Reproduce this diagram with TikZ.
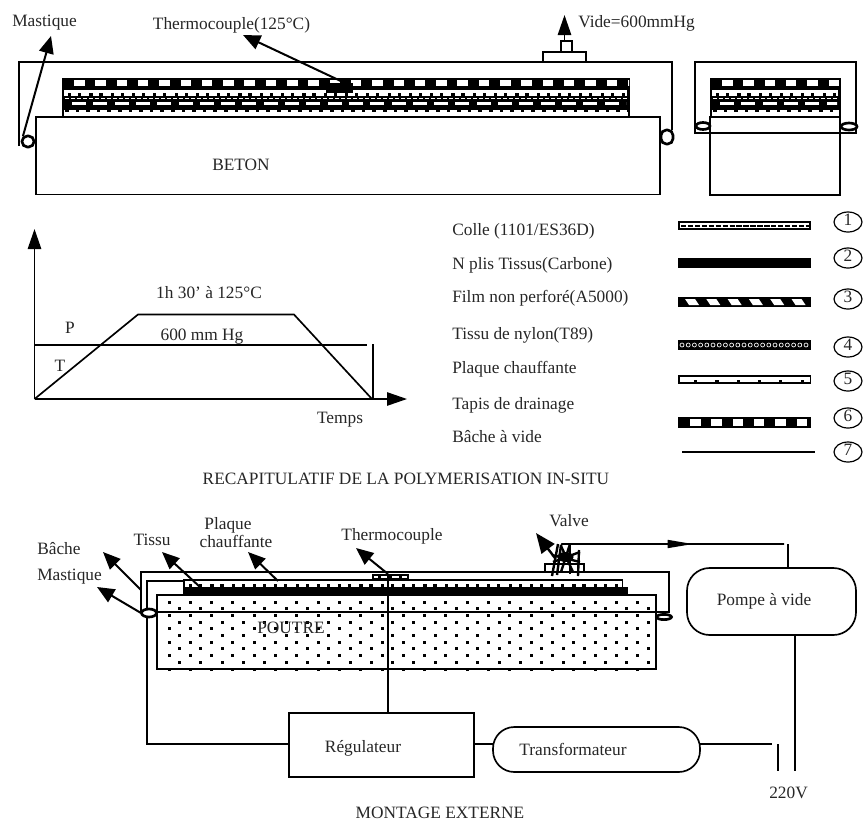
\documentclass[tikz,border=0pt]{standalone}
\usepackage{fontspec}
\setmainfont{Liberation Serif}
\usetikzlibrary{arrows.meta}

% Layer patterns: x1, x2, y1, y2 (black strip with white windows)
\newcommand{\layerTapis}[4]{
    \fill[black] (#1,#3) rectangle (#2,#4);
    \begin{scope}
    \clip (#1,#3) rectangle (#2-1,#4);
    \foreach \i in {0,...,30} {
        \fill[white] (#1+12+21.3*\i,#3+2) rectangle ++(10.5,#4-#3-4);
    }
    \end{scope}
}
\newcommand{\layerPlaque}[4]{
    \fill[black] (#1,#3) rectangle (#2,#4);
    \fill[white] (#1+1.5,#3+1.5) rectangle (#2-1.5,#4-1.5);
    \begin{scope}
    \clip (#1,#3) rectangle (#2-2,#4);
    \foreach \i in {0,...,30} {
        \fill[black] (#1+16+21.3*\i,#4-4) rectangle ++(3.2,3);
    }
    \end{scope}
}
\newcommand{\layerPlaqueBis}[4]{
    \layerPlaque{#1}{#2}{#3}{#4}
    \begin{scope}
    \clip (#1,#3) rectangle (#2-2,#4);
    \foreach \i in {0,...,30} {
        \fill[black] (#1+6+21.3*\i,#4-4) rectangle ++(3.2,3);
    }
    \end{scope}
}
\newcommand{\layerFilm}[4]{
    \fill[black] (#1,#3) rectangle (#2,#4);
    \begin{scope}
    \clip (#1,#3) rectangle (#2-1.5,#4-2);
    \foreach \i in {0,...,30} {
        \fill[white] (#1+7+21.3*\i,#3+2) -- ++(10,0) -- ++(4,#4-#3-4) -- ++(-10,0) -- cycle;
    }
    \end{scope}
}

% The stack of layers under the tarpaulin: x1, x2, number of bars
\newcommand{\stackLayers}[3]{
    \fill[black] (#1,78) rectangle (#2,117);
    \layerTapis{#1}{#2}{78}{88}
    \layerPlaqueBis{#1}{#2-2}{88}{97}
    \draw[white,line width=0.8pt,dash pattern=on 3pt off 1.5pt] (#1+3,98.5) -- (#2-3,98.5);
    \begin{scope}
    \clip (#1,100) rectangle (#2-4,110);
    \foreach \i in {0,...,#3} {
        \fill[white] (#1+10+21.3*\i,102) rectangle ++(14,2.5);
    }
    \end{scope}
    \fill[white] (#1+2,110) rectangle (#2-2,116);
    \begin{scope}
    \clip (#1+2,110) rectangle (#2-2,116);
    \foreach \i in {0,...,60} {
        \fill[black] (#1+3+10.6*\i,110) rectangle ++(3.5,2);
    }
    \end{scope}
}

\tikzset{
    every node/.style={font=\fontsize{13}{15}\selectfont, inner sep=0pt, text=black!85, text height=13pt, text depth=3pt},
    trait/.style={line width=1.25pt},
    fleche/.style={line width=1.5pt, -{Triangle[length=13pt,width=11pt]}},
    axe/.style={trait, -{Triangle[length=15pt,width=10pt]}},
    boite/.style={draw, line width=1.25pt, fill=white},
    joint/.style={line width=2pt, fill=white}
}

\begin{document}
\begin{tikzpicture}[x=0.75pt,y=-0.75pt]
\useasboundingbox (0,0) rectangle (863,822);

% Left section: bag, layers and concrete
\stackLayers{62}{630}{26}
\fill[black] (326,83) rectangle (353,93);
\draw[trait] (19,146) -- (19,62) -- (672,62) -- (672,130);
\draw[trait,fill=white] (36,117) rectangle (660,194.5);
\node (beton) at (241,164) {BETON};
\draw[joint,rounded corners=4pt] (22,136) rectangle (34,147);
\draw[joint,rounded corners=4pt] (661,130) rectangle (673,144);

% Valve on the top of the bag
\draw[trait,fill=white] (543,52) rectangle (586,62);
\draw[trait,fill=white] (561,41) rectangle (572,52);
\coordinate (valveHaut) at (564.5,41);
\coordinate (videTip) at (564.5,15);
\draw[axe] (valveHaut) -- (videTip);
\node[anchor=west] (vide) at (578,21) {Vide=600mmHg};

% Labels of the left section
\node[anchor=west] (mastiqueA) at (12,20) {Mastique};
\node (thermoA) at (231.5,23) {Thermocouple(125°C)};
\coordinate (mastiqueAFrom) at (23,136);
\coordinate (mastiqueATip) at (51,36);
\coordinate (thermoAFrom) at (345,83);
\coordinate (thermoATip) at (243,35);
\draw[fleche] (mastiqueAFrom) -- (mastiqueATip);
\draw[fleche] (thermoAFrom) -- (thermoATip);

% Right section
\stackLayers{710}{841}{5}
\draw[trait] (695,62) rectangle (856,133);
\draw[trait,fill=white] (710,117) rectangle (840,195);
\draw[trait] (695,133) -- (856,133);
\draw[joint] (703,126) ellipse (7 and 3.5);
\draw[joint] (849,126.5) ellipse (8 and 3.5);

% Cure cycle chart
\coordinate (O) at (34.5,399);
\coordinate (yTip) at (34.5,229);
\coordinate (xTip) at (407,399);
\draw[axe] (O) -- (yTip);
\draw[axe] (O) -- (xTip);
\draw[trait] (O) -- (138,314.5) -- (294,314.5) -- (372,399);
\draw[trait] (34.5,345) -- (367,345);
\draw[trait] (373,344) -- (373,399);
\node (palier) at (209,292) {1h 30' à 125°C};
\node (lblP) at (70,327) {P};
\node (pression) at (202,334) {600 mm Hg};
\node (lblT) at (60,365) {T};
\node (temps) at (340,417) {Temps};

% Legend: text, sample and number of each layer
\foreach \y/\txt in {229/{Colle (1101/ES36D)}, 263/N plis Tissus(Carbone), 296/Film non perforé(A5000), 333/Tissu de nylon(T89), 367/Plaque chauffante, 403/Tapis de drainage, 436/Bâche à vide} {
    \node[anchor=west] at (452,\y) {\txt};
}
% 1 glue
\fill[black] (678,221) rectangle (811,229.5);
\fill[white] (680,223) rectangle (809,227.5);
\draw[black,line width=1.2pt,dash pattern=on 4pt off 1.2pt] (681,226) -- (809,226);
% 2 carbon
\fill[black] (678,258) rectangle (811,268);
% 3 film
\layerFilm{678}{811}{297}{307}
% 4 nylon
\fill[black] (678,340) rectangle (811,350);
\foreach \i in {0,...,20} {
    \draw[white,line width=0.5pt] (682+6.2*\i,345) circle (2);
}
% 5 heater
\layerPlaque{678}{811}{375}{383.5}
% 6 drainage
\layerTapis{678}{811}{417}{428}
% 7 bag
\coordinate (bacheA) at (682,452);
\coordinate (bacheB) at (815,452);
\draw[trait] (bacheA) -- (bacheB);
\foreach \y/\n in {222/1, 258/2, 299/3, 347/4, 381/5, 418/6, 452/7} {
    \draw[line width=0.9pt] (848,\y) ellipse (14 and 10);
    \node at (848,\y-3) {\n};
}
\node (titreA) at (406,478) {RECAPITULATIF DE LA POLYMERISATION IN-SITU};

% External set-up: beam and layers
\fill[white] (157,595) rectangle (656,669);
\foreach \j in {0,...,10} {
    \pgfmathsetmacro{\dx}{mod(\j,2)*10.6}
    \foreach \i in {0,...,22} {
        \fill[black] (167.5+\dx+21.3*\i,600.5+6.7*\j) rectangle ++(3,3);
    }
}
\draw[trait] (157,595) rectangle (656,669);
\draw[trait] (157,612) -- (656,612);
\fill[black] (183,587) rectangle (628,595);
\layerPlaqueBis{183}{623}{579}{588}
\draw[line width=1pt,fill=white] (373,575) rectangle (408,578.5);
\foreach \i in {0,1,2} {
    \fill[black] (378+10.6*\i,575.5) rectangle ++(3,3);
}
\node (poutre) at (291,627) {POUTRE};

% Bag, heater wire and seals
\draw[trait] (141,613) -- (141,572) -- (669,572) -- (669,612) -- (656,612);
\draw[trait] (183,581) -- (147,581) -- (147,744) -- (289,744);
\draw[joint] (149,613) ellipse (7.5 and 4);
\draw[joint] (664,617) ellipse (7.5 and 2.6);

% Boxes of the set-up
\node[boite,minimum width=138.75pt,minimum height=48pt] (regulateur) at (381.5,745) {};
\node (txtRegulateur) at (363,746) {Régulateur};
\node[boite,rounded corners=16pt,minimum width=155.25pt,minimum height=33.75pt] (transfo) at (596.5,749.5) {};
\node (txtTransfo) at (573,749) {Transformateur};
\node[boite,rounded corners=17pt,minimum width=126.75pt,minimum height=50.25pt] (pompe) at (771.5,601.5) {};
\node (txtPompe) at (764,599) {Pompe à vide};

% Wires
\coordinate (thermoHaut) at (388,574);
\coordinate (regulateurHaut) at (388,713);
\coordinate (regulateurDroite) at (474,744);
\coordinate (transfoGauche) at (493,744);
\coordinate (transfoDroite) at (700,744);
\coordinate (borneA) at (772,744);
\coordinate (borneB) at (778,744);
\coordinate (borneBas) at (778,771);
\coordinate (pompeBas) at (795,635);
\coordinate (secteur) at (795,771);
\coordinate (pompeHaut) at (788,568);
\coordinate (pompeEntree) at (788,544);
\draw[trait] (thermoHaut) -- (regulateurHaut);
\draw[trait] (regulateurDroite) -- (transfoGauche);
\draw[trait] (transfoDroite) -- (borneA);
\draw[trait] (borneB) -- (borneBas);
\draw[trait] (pompeBas) -- (secteur);
\draw[trait] (pompeHaut) -- (pompeEntree);
\node (v220) at (788.5,792) {220V};

% Valve with its tangle of lines
\draw[trait,fill=white] (545,564) rectangle (584,572);
\draw[line width=1.8pt] (552,576) -- (558,544);
\draw[line width=1.8pt] (557,575) -- (561,545);
\draw[line width=1.8pt] (578,576) -- (579,550);
\draw[line width=1.8pt] (570,574) -- (570,544);
\draw[line width=1.8pt] (561,572) -- (570,544);
\draw[line width=1.8pt] (573,572) -- (561,546);
\draw[line width=1.8pt] (552,555) -- (580,562);
\draw[line width=1.8pt] (553,562) -- (580,552);
\fill[black] (565.5,557) ellipse (8 and 5);
\coordinate (valveTip) at (536,533);
\draw[line width=1.8pt,-{Triangle[length=15pt,width=12pt]}] (555,558) -- (valveTip);
\draw[trait] (561,546) -- (562,544) -- (784,544);
\coordinate (pompeFlecheA) at (660,544);
\coordinate (pompeFlecheB) at (693,544);
\draw[line width=1pt,-{Triangle[length=19pt,width=6pt]}] (pompeFlecheA) -- (pompeFlecheB);

% Labels of the set-up with their arrows
\node[anchor=west] (bache) at (37,548) {Bâche};
\node[anchor=west] (mastiqueB) at (37,574) {Mastique};
\node (tissu) at (152,539) {Tissu};
\node (plaqueA) at (228,523) {Plaque};
\node (plaqueB) at (236,541) {chauffante};
\node (thermoB) at (392,534) {Thermocouple};
\node (valve) at (569,520) {Valve};
\coordinate (bacheFrom) at (141,590);
\coordinate (bacheTip) at (103,552);
\coordinate (mastiqueFrom) at (141,613);
\coordinate (mastiqueTip) at (97,587);
\coordinate (tissuFrom) at (200,587);
\coordinate (tissuTip) at (162,552);
\coordinate (plaqueFrom) at (278,581);
\coordinate (plaqueTip) at (248,552);
\coordinate (thermoFrom) at (388,574);
\coordinate (thermoTip) at (356,548);
\foreach \a/\b in {bacheFrom/bacheTip, mastiqueFrom/mastiqueTip, tissuFrom/tissuTip, plaqueFrom/plaqueTip, thermoFrom/thermoTip} {
    \draw[fleche] (\a) -- (\b);
}
\node (titreB) at (440,812) {MONTAGE EXTERNE};

\end{tikzpicture}
\end{document}
